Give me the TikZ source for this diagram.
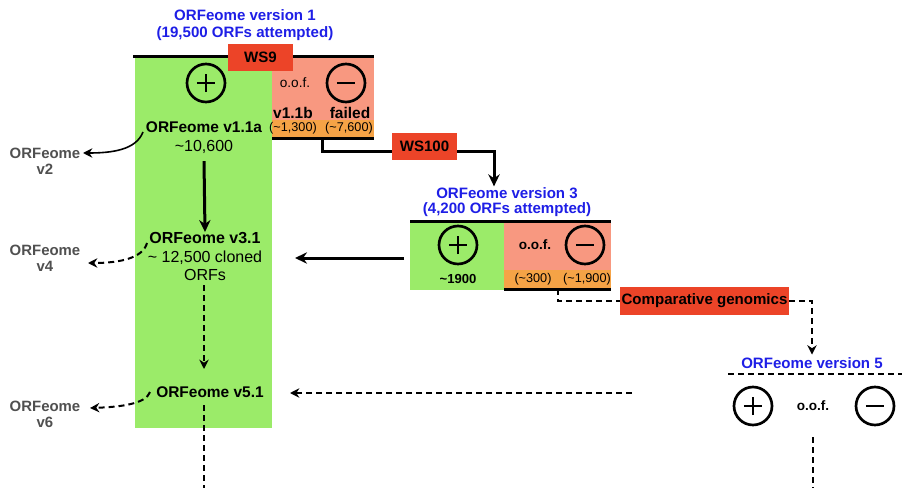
\documentclass[tikz,border=0pt]{standalone}
\usepackage{fontspec}
\setmainfont{Liberation Sans}
\usetikzlibrary{arrows.meta,calc}
\definecolor{lgreen}{RGB}{155,235,105}
\definecolor{salmon}{RGB}{248,152,128}
\definecolor{ostrip}{RGB}{245,163,70}
\definecolor{wsred}{RGB}{236,68,40}
\definecolor{tblue}{RGB}{30,30,230}
\definecolor{lgray}{RGB}{80,80,80}
\begin{document}
\begin{tikzpicture}[x=0.75pt,y=-0.75pt,
  title/.style={text=tblue,font=\fontsize{11.3}{12.75}\selectfont\bfseries,align=center,inner sep=1pt},
  title3/.style={title,font=\fontsize{11.3}{11.25}\selectfont\bfseries},
  lbl/.style={font=\fontsize{11.6}{13}\selectfont\bfseries,inner sep=1pt},
  num/.style={font=\fontsize{12}{13}\selectfont,inner sep=1pt},
  small/.style={font=\fontsize{9.5}{11}\selectfont,inner sep=0.5pt},
  smallb/.style={font=\fontsize{9.8}{11}\selectfont\bfseries,inner sep=0.5pt},
  oofs/.style={font=\fontsize{10.2}{11}\selectfont,inner sep=0.5pt},
  oofb/.style={font=\fontsize{10.2}{11}\selectfont\bfseries,inner sep=0.5pt},
  grayl/.style={text=lgray,font=\fontsize{11.2}{12}\selectfont\bfseries,align=center,inner sep=1pt},
  wsbox/.style={fill=wsred,font=\fontsize{11.3}{13}\selectfont\bfseries,inner sep=0pt,minimum width=48.75pt,minimum height=20.5pt},
  pmcirc/.style={circle,draw,line width=2pt,minimum size=28.5pt,inner sep=0pt},
  pluscirc/.style={pmcirc,path picture={\draw[line width=1.6pt] (path picture bounding box.center) +(-6.8pt,0) -- +(6.8pt,0) (path picture bounding box.center) +(0,-6.8pt) -- +(0,6.8pt);}},
  minuscirc/.style={pmcirc,path picture={\draw[line width=1.6pt] (path picture bounding box.center) +(-6.8pt,0) -- +(6.8pt,0);}},
  thk/.style={line width=2.25pt},
  thn/.style={line width=1.2pt},
  dsh/.style={line width=1.5pt,dash pattern=on 4.5pt off 3pt},
  tipA/.style={-{Stealth[length=9pt,width=8.5pt]}},
  tipB/.style={-{Stealth[length=7pt,width=7pt]}}
]
\useasboundingbox (0,0) rectangle (902,488);

% ---------- version 1 block ----------
\fill[lgreen] (135,57) rectangle (272,428);
\fill[salmon] (272,57) rectangle (374,120);
\fill[ostrip] (272,120) rectangle (374,138);
\draw[thk] (133,57) -- (374,57);
\draw[thk] (272,139) -- (374,139);

\node[title] (t1) at (245,25.5) {ORFeome version 1\\(19,500 ORFs attempted)};
\node[pluscirc] (p1) at (206,83) {};
\node[minuscirc] (m1) at (346,83) {};
\node[oofs] (oof1) at (295,83) {o.o.f.};
\node[lbl] (v11b) at (293,113) {v1.1b};
\node[lbl] (fail) at (350,113) {failed};
\node[small] (n1300) at (293,128.5) {(\textasciitilde1,300)};
\node[small] (n7600) at (349,128.5) {(\textasciitilde7,600)};
\node[lbl] (v11a) at (204,127) {ORFeome v1.1a};
\node[num] (n106) at (204,147) {\textasciitilde10,600};

\node[lbl,align=center,font=\fontsize{12}{13.9}\selectfont] (v31) at (205,256.5)
  {\textbf{ORFeome v3.1}\\\textasciitilde{} 12,500 cloned\\ORFs};
\node[lbl] (v51) at (210,392) {ORFeome v5.1};

\node[grayl] (v2) at (45,161) {ORFeome\\v2};
\node[grayl] (v4) at (45,258.5) {ORFeome\\v4};
\node[grayl] (v6) at (45,414) {ORFeome\\v6};

% ---------- version 3 block ----------
\fill[lgreen] (410,222) rectangle (504,290);
\fill[salmon] (504,222) rectangle (611,270);
\fill[ostrip] (504,270) rectangle (611,288);
\draw[thk] (410,222) -- (611,222);
\draw[thk] (504,289) -- (611,289);

\node[title3] (t3) at (507,202.5) {ORFeome version 3\\(4,200 ORFs attempted)};
\node[pluscirc] (p3) at (458,245) {};
\node[minuscirc] (m3) at (585,245) {};
\node[oofb] (oof3) at (535,245) {o.o.f.};
\node[smallb] (n1900) at (458,279) {\textasciitilde1900};
\node[small] (n300) at (533,279) {(\textasciitilde300)};
\node[small] (n1900b) at (587,279) {(\textasciitilde1,900)};

% ---------- version 5 block ----------
\node[title] (t5) at (812,363) {ORFeome version 5};
\draw[dsh] (728,374) -- (902,374);
\node[pluscirc] (p5) at (753,406) {};
\node[minuscirc] (m5) at (875,406) {};
\node[oofb] (oof5) at (813,406) {o.o.f.};

% ---------- coordinates ----------
\coordinate (c1b) at (322,139);
\coordinate (cturn) at (494,152);
\coordinate (c3b) at (558,289);
\coordinate (c3L) at (404,258);
\coordinate (c5L) at (632,393);
\coordinate (c51) at (204,405);
\coordinate (cbot1) at (204,490);
\coordinate (c5d) at (813,437);
\coordinate (cbot5) at (813,490);

% ---------- connectors ----------
\draw[thk,tipA] (c1b) |- (cturn) -- (cturn |- t3.north);
\node[wsbox] (ws100) at (424.5,146.5) {WS100};
\node[wsbox] (ws9) at (260.5,57.5) {WS9};

\node[wsbox,minimum width=126.75pt] (cg) at (704.5,301) {Comparative genomics};
\draw[dsh] (c3b) |- (cg.west);
\draw[dsh,tipB] (cg.east) -| ([yshift=1pt]t5.north);

\draw[thk,tipA] (n106.south) ++(0,6) -- ([yshift=-1pt]v31.north);
\draw[thk,tipA] (c3L) -- (295,258);
\draw[dsh,tipB] (204,285) -- (204,369);
\draw[dsh,tipB] (c5L) -- (290,393);
\draw[dsh] (c51) -- (cbot1);
\draw[dsh] (c5d) -- (cbot5);

\draw[thn,tipB] (143,132) .. controls (136,150) and (112,153) .. (83,153);
\draw[dsh,tipB] (147,243) .. controls (143,258) and (120,263) .. (88,263);
\draw[dsh,tipB] (150,392) .. controls (146,404) and (120,407) .. (90,408);
\end{tikzpicture}
\end{document}
